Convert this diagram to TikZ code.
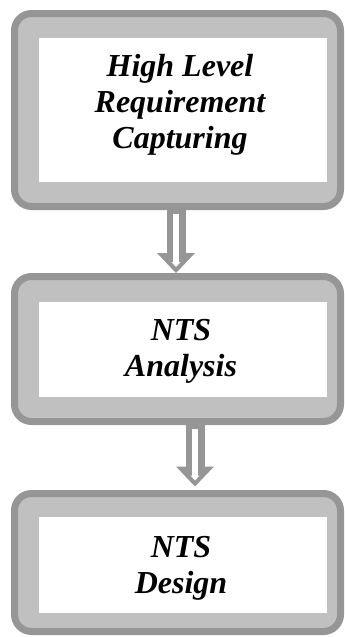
\documentclass[tikz,border=0pt]{standalone}
\usepackage{fontspec}
\setmainfont{Liberation Serif}
\usetikzlibrary{calc}

\definecolor{frameedge}{HTML}{969696}
\definecolor{framefill}{HTML}{C0C0C0}

\tikzset{
  frame/.style={draw=frameedge, line width=7pt, fill=framefill,
    rounded corners=17pt, inner sep=0pt},
  panel/.style={fill=white, inner sep=0pt, minimum width=288pt},
  caption/.style={inner sep=0pt, align=center,
    font=\bfseries\itshape\fontsize{32}{36}\selectfont},
}

% hollow downward arrow: #1 = top of shaft, #2 = tip
\newcommand\hollowdown[2]{%
  \fill[frameedge] ($(#1)+(-9.5,0)$) rectangle ($(#2)+(9.5,-20)$);
  \fill[frameedge] ($(#2)+(-19,-20)$) -- ($(#2)+(19,-20)$) -- (#2) -- cycle;
  \fill[white] ($(#1)+(-2.6,3.5)$) rectangle ($(#2)+(2.6,-11)$);
  \fill[white] ($(#2)+(-4.5,-11)$) -- ($(#2)+(4.5,-11)$) -- ($(#2)+(0,-6)$) -- cycle;
}

\begin{document}
\begin{tikzpicture}[x=1pt, y=-1pt]
  \useasboundingbox (0,0) rectangle (345,637);

  % outer frames
  \node[frame, minimum width=326pt, minimum height=193pt] (b1) at (177.5,110) {};
  \node[frame, minimum width=326pt, minimum height=145pt] (b2) at (177.5,349) {};
  \node[frame, minimum width=326pt, minimum height=138pt] (b3) at (177.5,562.5) {};

  % white panels
  \node[panel, minimum height=144pt] (p1) at (183,110) {};
  \node[panel, minimum height=95pt] (p2) at (183,349.5) {};
  \node[panel, minimum height=96pt] (p3) at (183,565) {};

  % captions
  \node[caption] (t1) at (180,104.5) {High Level\\Requirement\\Capturing};
  \node[caption] (t2) at (181,351) {NTS\\Analysis};
  \node[caption] (t3) at (181,568) {NTS\\Design};

  % connectors
  \coordinate (a1top) at ([xshift=-1.5pt]b1.south);
  \coordinate (a1tip) at (a1top |- b2.north);
  \coordinate (a2top) at ([xshift=17.5pt]b2.south);
  \coordinate (a2tip) at ([yshift=3.5pt]a2top |- b3.north);
  \hollowdown{a1top}{a1tip}
  \hollowdown{a2top}{a2tip}
\end{tikzpicture}
\end{document}
